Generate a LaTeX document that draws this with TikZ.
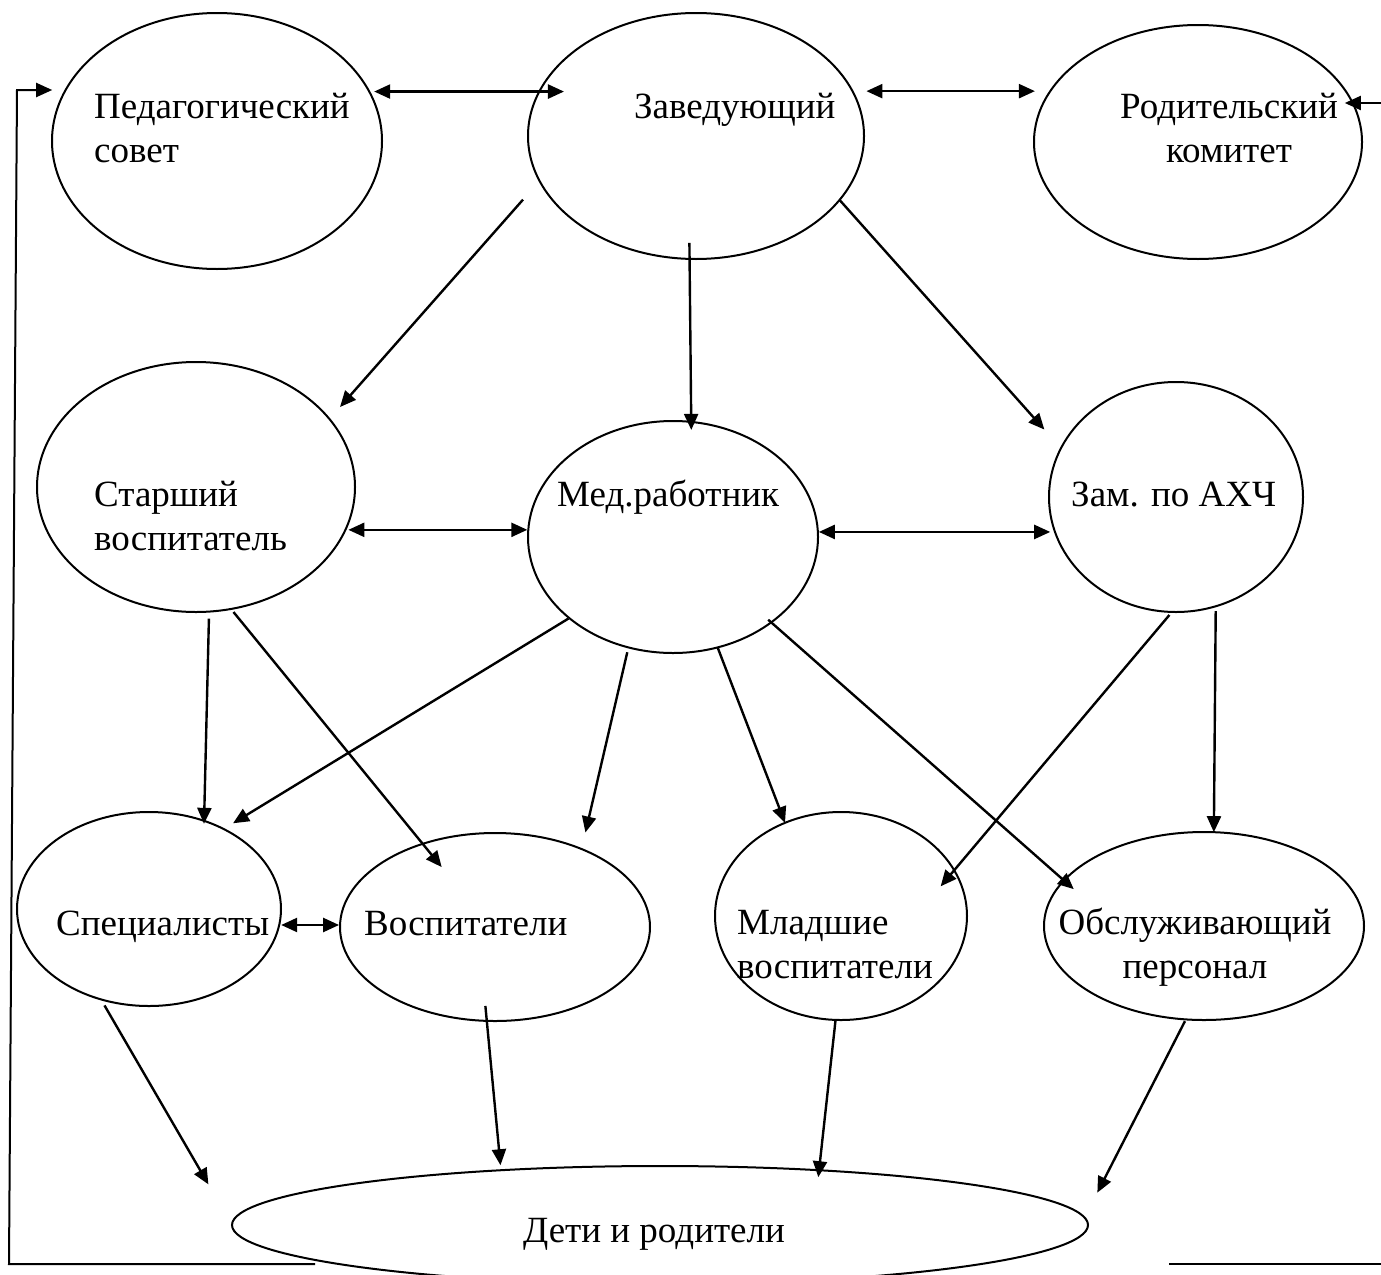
\documentclass[tikz,border=0pt]{standalone}
\usepackage{fontspec}
\setmainfont{Liberation Serif}
\usetikzlibrary{shapes.geometric,arrows.meta}

\begin{document}
\begin{tikzpicture}[x=1pt,y=-1pt,
  unit/.style={draw,ellipse,line width=2pt,inner sep=0pt,outer sep=0pt},
  txt/.style={font=\fontsize{37}{44}\selectfont,inner sep=0pt,anchor=base west,align=left},
  ctxt/.style={font=\fontsize{37}{44}\selectfont,inner sep=0pt,anchor=base,align=center},
  link/.style={line width=2.4pt,-{Triangle[length=16pt,width=14pt]}},
  both/.style={line width=2.4pt,{Triangle[length=16pt,width=14pt]}-{Triangle[length=16pt,width=14pt]}}]
\useasboundingbox (0,0) rectangle (1381,1274);
\clip (0,0) rectangle (1381,1274);
\node (ped) at (217,141) [unit, minimum width=330, minimum height=256] {};
\node (zav) at (696,136) [unit, minimum width=336, minimum height=246] {};
\node (rod) at (1198,142) [unit, minimum width=328, minimum height=234] {};
\node (star) at (196,487) [unit, minimum width=318, minimum height=250] {};
\node (med) at (673,537) [unit, minimum width=290, minimum height=232] {};
\node (zam) at (1176,497) [unit, minimum width=254, minimum height=230] {};
\node (spec) at (149,909) [unit, minimum width=264, minimum height=194] {};
\node (vosp) at (495,927) [unit, minimum width=310, minimum height=188] {};
\node (mlad) at (841,916) [unit, minimum width=252, minimum height=208] {};
\node (obsl) at (1204,926) [unit, minimum width=320, minimum height=188] {};
\node (deti) at (660,1225) [unit, minimum width=856, minimum height=118] {};
\node (ped-t) at (94,162) [txt] {Педагогический\\совет};
\node (zav-t) at (634,118) [txt] {Заведующий};
\node (rod-t) at (1229,162) [ctxt] {Родительский\\комитет};
\node (star-t) at (94,550) [txt] {Старший\\воспитатель};
\node (med-t) at (557,506) [txt] {Мед.работник};
\node (zam-t) at (1071,506) [txt] {Зам. по АХЧ};
\node (spec-t) at (56,935) [txt] {Специалисты};
\node (vosp-t) at (364,935) [txt] {Воспитатели};
\node (mlad-t) at (737,978) [txt] {Младшие\\воспитатели};
\node (obsl-t) at (1195,978) [ctxt] {Обслуживающий\\персонал};
\node (deti-t) at (654,1242) [ctxt] {Дети и родители};
\draw [both, shorten <=5pt, shorten >=-23pt] (ped.18.6) -- (ped.18.6 -| zav.163.6);
\draw [both, shorten <=14pt, shorten >=17pt] (zav.16.4) -- (zav.16.4 -| rod.160.5);
\draw [link, shorten <=25pt, shorten >=16pt] (zav.196.6) -- (star.27.1);
\draw [link, shorten <=-16pt, shorten >=-8pt] (zav.267.2) -- (med.81.6);
\draw [link, shorten >=25pt] (zav.-24.75) -- (zam.157.6);
\draw [both, shorten <=3pt, shorten >=1pt] (star.-16.1) -- (star.-16.1 -| med.177.2);
\draw [both, shorten <=1pt, shorten >=4pt] (med.2.8) -- (med.2.8 -| zam.195.2);
\draw [link, shorten <=7pt, shorten >=-3pt] (star.-84) -- (spec.58.1);
\draw [link, shorten <=4pt, shorten >=-30pt] (star.-74.6) -- (vosp.131.3);
\draw [link, shorten <=1pt, shorten >=11pt] (med.218.1) -- (spec.47.2);
\draw [link, shorten <=5pt, shorten >=17pt] (med.248.9) -- (vosp.42.3);
\draw [link] (med.-68.7) -- (mlad.121.1);
\draw [link, shorten <=-4pt, shorten >=-13pt] (med.-41.2) -- (obsl.162.4);
\draw [link, shorten <=4pt, shorten >=-21pt] (zam.268.3) -- (mlad.22.3);
\draw [link, shorten <=5pt] (zam.-70.9) -- (obsl.84.5);
\draw [both, shorten <=2pt, shorten >=1pt] (spec.-7) -- (spec.-7 -| vosp.179.3);
\draw [link, shorten <=7pt, shorten >=47pt] (spec.242.8) -- (deti.180);
\draw [link, shorten <=-15pt, shorten >=5pt] (vosp.265.3) -- (deti.161.1);
\draw [link, shorten <=1pt, shorten >=-7pt] (mlad.267.2) -- (deti.19.1);
\draw [link, shorten <=2pt, shorten >=28pt] (obsl.259) -- (deti.1.8);
\coordinate (fbL0) at (315,1264);
\coordinate (fbL1) at (9,1264);
\coordinate (fbL2) at (17,90);
\draw [link, line width=2pt, shorten >=14pt] (fbL0) -- (fbL1) -- (fbL2) -- (fbL2 -| ped.161.4);
\coordinate (fbR0) at (1169,1264);
\coordinate (fbR1) at (1381,1264);
\coordinate (fbR2) at (1381,103);
\draw [line width=2pt] (fbR0) -- (fbR1);
\draw [link, line width=2pt, shorten >=-8pt] (fbR2) -- (fbR2 -| rod.14.2);
\end{tikzpicture}
\end{document}
